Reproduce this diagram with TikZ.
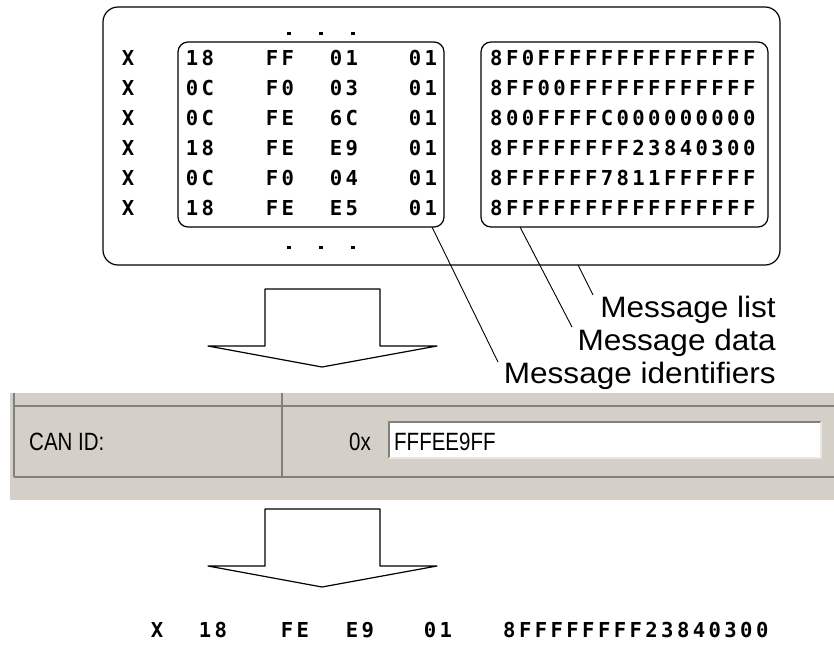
\documentclass[tikz,border=0pt]{standalone}
\usepackage{fontspec}
\usepackage{tikz}
\usetikzlibrary{calc}
\newfontfamily\hexfont[LetterSpace=16.5]{DejaVu Sans Mono Bold}
\newfontfamily\guifont[FakeStretch=0.82]{Liberation Sans}
\newfontfamily\notefont[FakeStretch=1.07]{Liberation Sans}
\definecolor{panel}{RGB}{212, 208, 200}
\definecolor{edge}{RGB}{128, 128, 128}

\begin{document}
\begin{tikzpicture}[x=1pt, y=-1pt, line join=round,
  hex/.style={font=\hexfont\fontsize{20.6}{20.6}\selectfont, inner sep=0pt, anchor=base},
  note/.style={font=\notefont\fontsize{29.5}{29.5}\selectfont, inner sep=0pt, anchor=base east},
  gui/.style={font=\guifont\fontsize{25}{25}\selectfont, inner sep=0pt, anchor=base west},
  msgbox/.style={draw, line width=1.2pt, rounded corners=#1},
  blockarrow/.style={draw, line width=1.2pt, fill=white},
  leader/.style={line width=0.9pt}]
  \useasboundingbox (0,0) rectangle (834,646);

  % Message list with the identifier and data boxes
  \draw[msgbox=15pt] (103,7) rectangle (780,265);
  \draw[msgbox=10pt] (178,42) rectangle (444,227);
  \draw[msgbox=10pt] (481,42) rectangle (768,227);

  % dots above and below
  \foreach \y in {33,247}
    \foreach \x in {289,321,353}
      \fill (\x-2,\y-1.5) rectangle (\x+2,\y+1.5);

  % Rows: X, priority, PF, PS, source, data
  \foreach \i/\a/\b/\c/\d/\m in {0/18/FF/01/01/8F0FFFFFFFFFFFFFF,
      1/0C/F0/03/01/8FF00FFFFFFFFFFFF, 2/0C/FE/6C/01/800FFFFC000000000,
      3/18/FE/E9/01/8FFFFFFFF23840300, 4/0C/F0/04/01/8FFFFFF7811FFFFFF,
      5/18/FE/E5/01/8FFFFFFFFFFFFFFFF} {
    \node[hex] (x\i) at (128, 65.5+30*\i) {X};
    \node[hex] (prio\i) at (200, 65.5+30*\i) {\a};
    \node[hex] (pf\i) at (280, 65.5+30*\i) {\b};
    \node[hex] (ps\i) at (344, 65.5+30*\i) {\c};
    \node[hex] (src\i) at (423, 65.5+30*\i) {\d};
    \node[hex, anchor=base west] (data\i) at (490, 65.5+30*\i) {\m};
  }

  % Labels and leader lines
  \node[note] (listlab) at (776,317) {Message list};
  \node[note] (datalab) at (776,350) {Message data};
  \node[note] (idlab) at (776,383) {Message identifiers};
  \coordinate (listfoot) at (578,265);
  \coordinate (datafoot) at (520,227);
  \coordinate (idfoot) at (432,227);
  \coordinate (listend) at (593,295);
  \coordinate (dataend) at (572,327);
  \coordinate (idend) at (498,362);
  \draw[leader] (listfoot) -- (listend);
  \draw[leader] (datafoot) -- (dataend);
  \draw[leader] (idfoot) -- (idend);

  % Block arrows
  \foreach \t in {289,509}
    \draw[blockarrow] (265,\t+57) -- (265,\t) -- (380,\t) -- (380,\t+57)
      -- (437,\t+57) -- (322,\t+78) -- (208,\t+57) -- cycle;

  % CAN ID panel
  \fill[panel] (10,393) rectangle (834,500);
  \draw[edge, line width=1.5pt] (14,393) -- (14,477);
  \draw[edge, line width=1.5pt] (282,393) -- (282,477);
  \draw[edge, line width=1.5pt] (14,406) -- (834,406);
  \draw[edge, line width=1.5pt] (14,477) -- (834,477);
  \fill[white] (389,422) rectangle (821,458);
  \draw[edge, line width=2pt] (389,458) -- (389,422) -- (821,422);
  \draw[panel!50!white, line width=1.5pt] (389,458) -- (821,458) -- (821,422);
  \node[gui] (canid) at (29,450) {CAN ID:};
  \node[gui] (hexpre) at (349,450) {0x};
  \node[gui] (canval) at (394,450) {FFFEE9FF};

  % Resulting message
  \node[hex] (outx) at (157,637) {X};
  \node[hex] (outprio) at (213,637) {18};
  \node[hex] (outpf) at (295,637) {FE};
  \node[hex] (outps) at (360,637) {E9};
  \node[hex] (outsrc) at (438,637) {01};
  \node[hex, anchor=base west] (outdata) at (503,637) {8FFFFFFFF23840300};
\end{tikzpicture}
\end{document}
